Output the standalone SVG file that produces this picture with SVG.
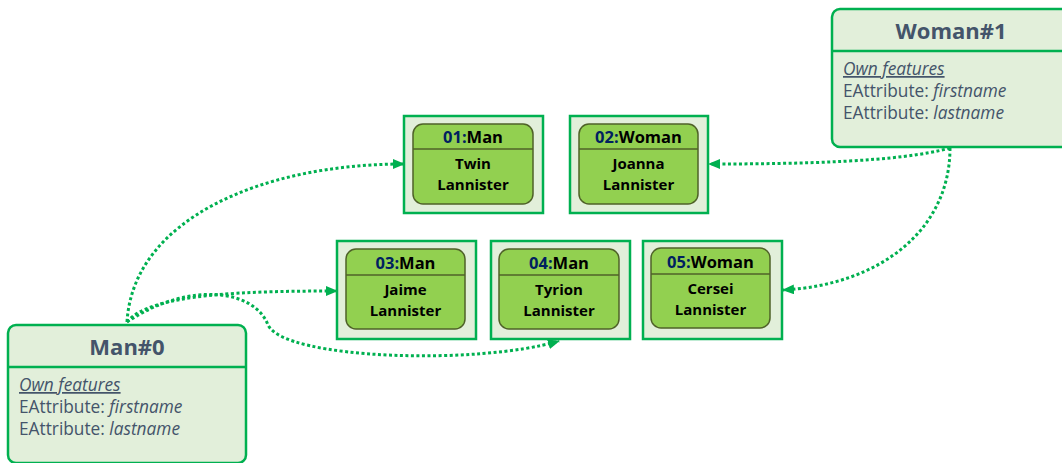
<svg xmlns="http://www.w3.org/2000/svg" width="1062" height="463" viewBox="0 0 1062 463">
  <style>
    .cls { fill: #E2EFDA; stroke: #00B050; stroke-width: 2.5; }
    .div { stroke: #00B050; stroke-width: 2.5; }
    .ttl { font-family: "Open Sans", "Liberation Sans", sans-serif; font-weight: bold; font-size: 22px; fill: #44546A; text-anchor: middle; }
    .att { font-family: "Open Sans", "Liberation Sans", sans-serif; font-size: 17.3px; fill: #44546A; }
    .it { font-style: italic; }
    .outer { fill: #E2EFDA; stroke: #00B050; stroke-width: 2.5; }
    .inner { fill: #92D050; stroke: #4F6228; stroke-width: 1.5; }
    .idiv { stroke: #4F6228; stroke-width: 1.5; }
    .hd { font-family: "Open Sans", "Liberation Sans", sans-serif; font-weight: bold; font-size: 16.5px; fill: #000000; text-anchor: middle; }
    .num { fill: #002060; }
    .bd { font-family: "Open Sans", "Liberation Sans", sans-serif; font-weight: bold; font-size: 15px; fill: #000000; text-anchor: middle; }
    .con { fill: none; stroke: #00B050; stroke-width: 3; stroke-dasharray: 3 2.5; marker-end: url(#arr); }
  </style>
  <defs>
    <marker id="arr" markerUnits="userSpaceOnUse" markerWidth="12" markerHeight="10" refX="11" refY="5" orient="auto">
      <path d="M0,0 L12,5 L0,10 Z" fill="#00B050"/>
    </marker>
  </defs>

  <g id="connectors">
    <path class="con" d="M127,322 C133,220 260,164 404,164"/>
    <path class="con" d="M127,322 C150,293 250,291 337,291"/>
    <path class="con" d="M127,322 C190,280 255,290 268,325 C285,360 480,365 559,341"/>
    <path class="con" d="M950,148 C900,162 800,164 709,164"/>
    <path class="con" d="M950,148 C950,230 880,285 783,290"/>
  </g>

  <g id="woman1">
    <rect class="cls" x="832" y="9" width="238" height="138" rx="8"/>
    <line class="div" x1="832" y1="51" x2="1070" y2="51"/>
    <text class="ttl" x="951" y="39">Woman#1</text>
    <text class="att it" x="843" y="75" text-decoration="underline">Own features</text>
    <text class="att" x="843" y="97">EAttribute: <tspan class="it">firstname</tspan></text>
    <text class="att" x="843" y="119">EAttribute: <tspan class="it">lastname</tspan></text>
  </g>

  <g id="man0">
    <rect class="cls" x="8" y="325" width="238" height="138" rx="8"/>
    <line class="div" x1="8" y1="367" x2="246" y2="367"/>
    <text class="ttl" x="127" y="355">Man#0</text>
    <text class="att it" x="19" y="391" text-decoration="underline">Own features</text>
    <text class="att" x="19" y="413">EAttribute: <tspan class="it">firstname</tspan></text>
    <text class="att" x="19" y="435">EAttribute: <tspan class="it">lastname</tspan></text>
  </g>

  <g id="n01">
    <rect class="outer" x="404" y="116" width="139" height="97"/>
    <rect class="inner" x="413" y="124" width="120" height="80" rx="10"/>
    <line class="idiv" x1="413" y1="149" x2="533" y2="149"/>
    <text class="hd" x="473" y="143"><tspan class="num">01:</tspan>Man</text>
    <text class="bd" x="473" y="169">Twin</text>
    <text class="bd" x="473" y="190">Lannister</text>
  </g>

  <g id="n02">
    <rect class="outer" x="570" y="116" width="138" height="97"/>
    <rect class="inner" x="579" y="124" width="119" height="80" rx="10"/>
    <line class="idiv" x1="579" y1="149" x2="698" y2="149"/>
    <text class="hd" x="638.5" y="143"><tspan class="num">02:</tspan>Woman</text>
    <text class="bd" x="638.5" y="169">Joanna</text>
    <text class="bd" x="638.5" y="190">Lannister</text>
  </g>

  <g id="n03">
    <rect class="outer" x="337" y="241" width="139" height="98"/>
    <rect class="inner" x="346" y="249" width="119" height="80" rx="10"/>
    <line class="idiv" x1="346" y1="275" x2="465" y2="275"/>
    <text class="hd" x="405.5" y="269"><tspan class="num">03:</tspan>Man</text>
    <text class="bd" x="405.5" y="295">Jaime</text>
    <text class="bd" x="405.5" y="316">Lannister</text>
  </g>

  <g id="n04">
    <rect class="outer" x="491" y="241" width="139" height="98"/>
    <rect class="inner" x="499" y="249" width="120" height="80" rx="10"/>
    <line class="idiv" x1="499" y1="275" x2="619" y2="275"/>
    <text class="hd" x="559" y="269"><tspan class="num">04:</tspan>Man</text>
    <text class="bd" x="559" y="295">Tyrion</text>
    <text class="bd" x="559" y="316">Lannister</text>
  </g>

  <g id="n05">
    <rect class="outer" x="643" y="241" width="139" height="98"/>
    <rect class="inner" x="651" y="248" width="119" height="80" rx="10"/>
    <line class="idiv" x1="651" y1="274" x2="770" y2="274"/>
    <text class="hd" x="710.5" y="268"><tspan class="num">05:</tspan>Woman</text>
    <text class="bd" x="710.5" y="294">Cersei</text>
    <text class="bd" x="710.5" y="315">Lannister</text>
  </g>
</svg>
